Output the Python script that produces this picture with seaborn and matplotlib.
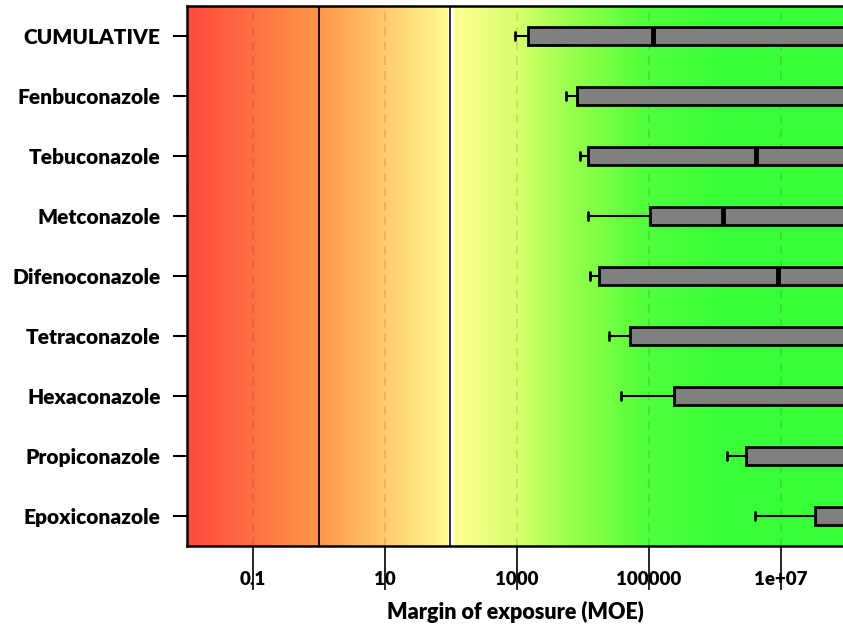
import numpy as np
import pandas as pd
import matplotlib
matplotlib.use("Agg")
import matplotlib.pyplot as plt
from matplotlib.colors import LinearSegmentedColormap
import seaborn as sns

sns.set_style("white")
plt.rcParams['font.family'] = ['Lato', 'DejaVu Sans']
plt.rcParams['text.color'] = 'black'
plt.rcParams['xtick.labelcolor'] = 'black'
plt.rcParams['ytick.labelcolor'] = 'black'

# ---- data (MOE values; right parts lie beyond the visible range) ----
pesticides = ["CUMULATIVE", "Fenbuconazole", "Tebuconazole", "Metconazole",
              "Difenoconazole", "Tetraconazole", "Hexaconazole", "Propiconazole",
              "Epoxiconazole"]
moe_min = [920, 5500, 9000, 12000, 12800, 24800, 38000, 1.5e6, 4.0e6]
moe_q1 = [1450, 8200, 11900, 1.05e5, 17500, 51500, 2.4e5, 2.9e6, 3.3e7]
moe_median = [1.16e5, 2.0e8, 4.2e6, 1.3e6, 9.1e6, 3.0e8, 5.0e8, 8.0e8, 1.2e9]
moe_q3 = [3.0e8, 9.0e8, 5.0e8, 4.0e8, 7.0e8, 1.5e9, 2.0e9, 3.0e9, 4.0e9]
moe_max = [2.0e9, 5.0e9, 3.0e9, 2.0e9, 4.0e9, 6.0e9, 8.0e9, 9.0e9, 9.5e9]

xticks = [0.1, 10, 1000, 100000, 1e7]
xtick_labels = ["0.1", "10", "1000", "100000", "1e+07"]

rows = []
for i, p in enumerate(pesticides):
    for v in (moe_min[i], moe_q1[i], moe_median[i], moe_q3[i], moe_max[i]):
        rows.append({"Pesticide": p, "MOE": v})
df = pd.DataFrame(rows)

W, H = 843, 628
fig = plt.figure(figsize=(W / 100, H / 100), dpi=100)
left_px, top_px, bottom_px = 187, 6, 546
decade_px = 66
xmin_log, xmax_log = -2, 10
ax = fig.add_axes([left_px / W, (H - bottom_px) / H,
                   (xmax_log - xmin_log) * decade_px / W, (bottom_px - top_px) / H])

sns.boxplot(data=df, x="MOE", y="Pesticide", orient="h", log_scale=True,
            whis=(0, 100), width=0.3, color="#808080", saturation=1,
            linecolor="black", linewidth=2, ax=ax,
            medianprops=dict(linewidth=3.5, color="black", solid_capstyle="butt"),
            capprops=dict(linewidth=2), whiskerprops=dict(linewidth=1.5),
            capwidths=0.13, zorder=3)

# background gradient (in log space)
stops = [(-2, "#FF4A3C"), (0, "#FF984A"), (2, "#FFFF92"), (3, "#D8FF6C"),
         (4, "#8CFF48"), (5, "#50FF3C"), (6, "#3AFF38"), (10, "#38FF38")]
cmap = LinearSegmentedColormap.from_list(
    "moe", [((v - xmin_log) / (xmax_log - xmin_log), c) for v, c in stops])
grad = np.linspace(0, 1, 1200).reshape(1, -1)
ax.imshow(grad, cmap=cmap, aspect="auto", extent=[0, 1, 0, 1],
          transform=ax.transAxes, zorder=0, interpolation="bilinear")

for t in xticks:
    ax.axvline(t, color="black", alpha=0.1, lw=1.5, ls=(0, (4, 3)), zorder=1)
ax.axvline(1, color="black", lw=1.3, zorder=2)
ax.axvline(100, color="white", lw=4.5, zorder=2)
ax.axvline(100 * 10 ** (-1.2 / decade_px), color="black", lw=1.1, zorder=2)

ax.set_xscale("log")
ax.set_xlim(10 ** xmin_log, 10 ** xmax_log)
ax.set_ylim(8.5, -0.5)
ax.set_xticks(xticks)
ax.set_xticklabels(xtick_labels)
ax.minorticks_off()
ax.set_ylabel("")
ax.set_xlabel("")

ax.tick_params(axis="y", direction="out", length=10, width=1.5, color="black",
               labelsize=15, pad=9, left=True, labelcolor="black")
ax.tick_params(axis="x", direction="out", length=32, width=1.2, color="black",
               labelsize=13.5, pad=-14, bottom=True, labelcolor="black")
for lab in ax.get_xticklabels() + ax.get_yticklabels():
    lab.set_fontweight("heavy")

for s in ["top", "left", "bottom", "right"]:
    ax.spines[s].set_visible(True)
    ax.spines[s].set_color("black")
    ax.spines[s].set_linewidth(1.8)

fig.text((left_px + W) / 2 / W, 1 - 612 / H, "Margin of exposure (MOE)",
         ha="center", va="center", fontsize=15.5, fontweight="heavy", color="black")

fig.savefig("out.png", dpi=100)
